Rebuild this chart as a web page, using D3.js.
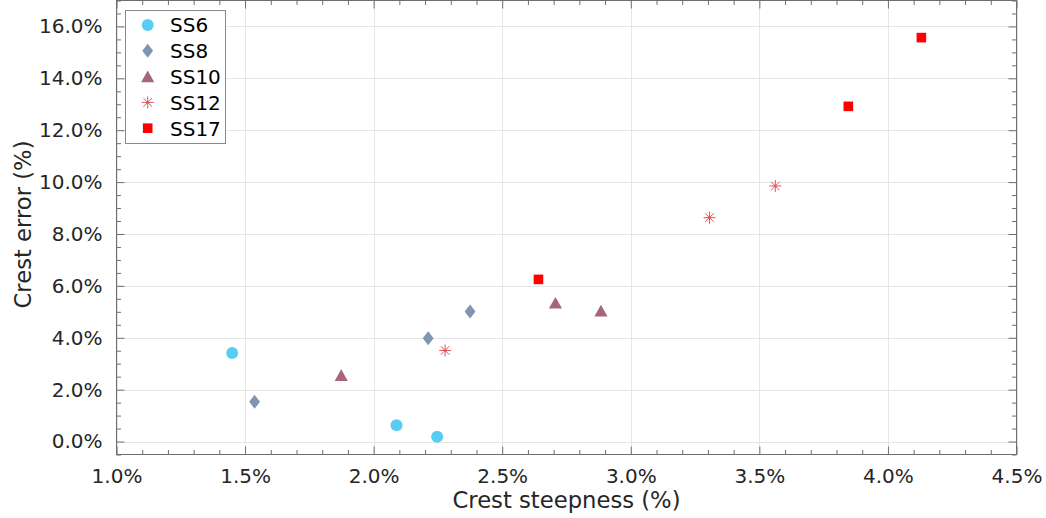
<!DOCTYPE html>
<html>
<head>
<meta charset="utf-8">
<script src="https://cdn.jsdelivr.net/npm/d3@7"></script>
<style>
  html, body { margin: 0; padding: 0; background: #fff; }
  svg { display: block; font-family: "DejaVu Sans", sans-serif; }
</style>
</head>
<body>
<svg id="chart" width="1046" height="518"></svg>
<script>
// Crest steepness (%) vs crest error (%) per sea state
const seriesNames = ["SS6", "SS8", "SS10", "SS12", "SS17"];
const ss6  = [[1.450, 3.41], [2.089, 0.63], [2.247, 0.18]];
const ss8  = [[1.537, 1.53], [2.212, 3.98], [2.375, 5.01]];
const ss10 = [[1.874, 2.55], [2.707, 5.34], [2.884, 5.04]];
const ss12 = [[2.278, 3.51], [3.306, 8.63], [3.562, 9.85]];
const ss17 = [[2.641, 6.25], [3.846, 12.92], [4.130, 15.57]];
const xTicks = [1.0, 1.5, 2.0, 2.5, 3.0, 3.5, 4.0, 4.5];
const yTicks = [0, 2, 4, 6, 8, 10, 12, 14, 16];

const seriesData = [ss6, ss8, ss10, ss12, ss17];
const colors = ["#58CDF4", "#7F95B2", "#A66678", "#E8525A", "#FF0000"];
const shapes = ["circle", "diamond", "triangle", "asterisk", "square"];

const svg = d3.select("#chart");
const L = 116.5, R = 1016.5, T = 0.5, B = 454.5;

const x = d3.scaleLinear().domain([1.0, 4.5]).range([L, R]);
const y = d3.scaleLinear().domain([-0.5, 17]).range([B, T]);

const xMinor = d3.range(10, 46).map(v => v / 10).filter(v => Math.abs(v * 2 - Math.round(v * 2)) > 1e-6);
const yMinor = d3.range(-1, 35).map(v => v / 2).filter(v => v >= -0.5 && v <= 17 && Math.abs(v / 2 - Math.round(v / 2)) > 1e-6);

// Major grid
const grid = svg.append("g").attr("stroke", "#e6e6e6").attr("stroke-width", 1);
xTicks.forEach(v => grid.append("line")
  .attr("x1", Math.round(x(v)) + 0.5).attr("x2", Math.round(x(v)) + 0.5)
  .attr("y1", T).attr("y2", B));
yTicks.forEach(v => grid.append("line")
  .attr("x1", L).attr("x2", R)
  .attr("y1", Math.round(y(v)) + 0.5).attr("y2", Math.round(y(v)) + 0.5));

// Axes with inward ticks on all four sides
const axisColor = "#6e6e6e";
const fmt = d => d.toFixed(1) + "%";

function styleAxis(g) {
  g.select(".domain").remove();
  g.selectAll("line").attr("stroke", axisColor);
  g.selectAll("text").attr("fill", "#262626").attr("font-size", 20)
    .attr("font-family", "DejaVu Sans, sans-serif");
}

// bottom
svg.append("g").attr("transform", `translate(0,${B})`)
  .call(d3.axisBottom(x).tickValues(xTicks).tickFormat(fmt).tickSizeInner(-8).tickSizeOuter(0).tickPadding(14))
  .call(styleAxis);
svg.append("g").attr("transform", `translate(0,${B})`)
  .call(d3.axisBottom(x).tickValues(xMinor).tickFormat("").tickSizeInner(-4.5).tickSizeOuter(0))
  .call(styleAxis);
// top
svg.append("g").attr("transform", `translate(0,${T})`)
  .call(d3.axisTop(x).tickValues(xTicks).tickFormat("").tickSizeInner(-8).tickSizeOuter(0))
  .call(styleAxis);
svg.append("g").attr("transform", `translate(0,${T})`)
  .call(d3.axisTop(x).tickValues(xMinor).tickFormat("").tickSizeInner(-4.5).tickSizeOuter(0))
  .call(styleAxis);
// left
svg.append("g").attr("transform", `translate(${L},0)`)
  .call(d3.axisLeft(y).tickValues(yTicks).tickFormat(fmt).tickSizeInner(-8).tickSizeOuter(0).tickPadding(14))
  .call(styleAxis);
svg.append("g").attr("transform", `translate(${L},0)`)
  .call(d3.axisLeft(y).tickValues(yMinor).tickFormat("").tickSizeInner(-4.5).tickSizeOuter(0))
  .call(styleAxis);
// right
svg.append("g").attr("transform", `translate(${R},0)`)
  .call(d3.axisRight(y).tickValues(yTicks).tickFormat("").tickSizeInner(-8).tickSizeOuter(0))
  .call(styleAxis);
svg.append("g").attr("transform", `translate(${R},0)`)
  .call(d3.axisRight(y).tickValues(yMinor).tickFormat("").tickSizeInner(-4.5).tickSizeOuter(0))
  .call(styleAxis);

// Box
svg.append("rect").attr("x", L).attr("y", T).attr("width", R - L).attr("height", B - T)
  .attr("fill", "none").attr("stroke", axisColor).attr("stroke-width", 1);

// Axis titles
svg.append("text").attr("x", (L + R) / 2).attr("y", 508)
  .attr("text-anchor", "middle").attr("font-size", 22.7).attr("fill", "#262626")
  .text("Crest steepness (%)");
svg.append("text").attr("transform", `translate(31,${(y(-0.5) + y(17)) / 2 - 3}) rotate(-90)`)
  .attr("text-anchor", "middle").attr("font-size", 22.7).attr("fill", "#262626")
  .text("Crest error (%)");

// Marker drawing
function drawMarker(g, shape, color) {
  if (shape === "circle") {
    g.append("circle").attr("r", 6).attr("fill", color);
  } else if (shape === "diamond") {
    g.append("path").attr("d", "M0,-7L5.4,0L0,7L-5.4,0Z").attr("fill", color);
  } else if (shape === "triangle") {
    g.append("path").attr("d", "M0,-6L6.6,5.6L-6.6,5.6Z").attr("fill", color);
  } else if (shape === "square") {
    g.append("rect").attr("x", -4.8).attr("y", -4.8).attr("width", 9.6).attr("height", 9.6).attr("fill", color);
  } else if (shape === "asterisk") {
    const s = 6, d = 4.3;
    g.append("path")
      .attr("d", `M${-s},0L${s},0M0,${-s}L0,${s}M${-d},${-d}L${d},${d}M${-d},${d}L${d},${-d}`)
      .attr("stroke", color).attr("stroke-width", 1).attr("fill", "none");
    g.append("circle").attr("r", 1.3).attr("fill", color);
  }
}

// Points
seriesData.forEach((pts, i) => {
  const grp = svg.append("g").attr("class", "series-" + seriesNames[i]);
  pts.forEach(p => {
    const m = grp.append("g").attr("transform", `translate(${x(p[0])},${y(p[1])})`);
    drawMarker(m, shapes[i], colors[i]);
  });
});

// Legend
const lg = svg.append("g");
lg.append("rect").attr("x", 125.5).attr("y", 10.5).attr("width", 100).attr("height", 133)
  .attr("fill", "#fff").attr("stroke", "#8a8a8a").attr("stroke-width", 1);
seriesNames.forEach((name, i) => {
  const cy = 25 + i * 25.8;
  const m = lg.append("g").attr("transform", `translate(147.7,${cy})`);
  drawMarker(m, shapes[i], colors[i]);
  lg.append("text").attr("x", 170).attr("y", cy + 7.3).attr("font-size", 20)
    .attr("fill", "#000").text(name);
});
</script>
</body>
</html>
